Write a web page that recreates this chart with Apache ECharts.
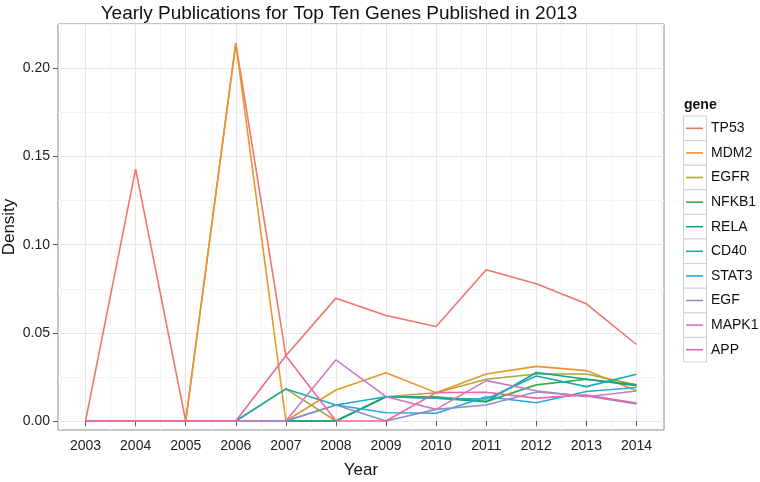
<!DOCTYPE html>
<html><head><meta charset="utf-8">
<script src="https://cdn.jsdelivr.net/npm/echarts@6/dist/echarts.min.js"></script>
<style>html,body{margin:0;padding:0;background:#fff}#c{width:760px;height:482px}</style>
</head><body><div id="c"></div>
<script>
// ---- data ----
const years = [2003,2004,2005,2006,2007,2008,2009,2010,2011,2012,2013,2014];
const genes = ['TP53','MDM2','EGFR','NFKB1','RELA','CD40','STAT3','EGF','MAPK1','APP'];
const TP53  = [0, 0.1429, 0, 0.2143, 0.0370, 0.0697, 0.0598, 0.0536, 0.0858, 0.0778, 0.0665, 0.0434];
const MDM2  = [0, 0, 0, 0.2143, 0, 0.0176, 0.0274, 0.0161, 0.0267, 0.0310, 0.0286, 0.0172];
const EGFR  = [0, 0, 0, 0, 0.0182, 0, 0.0138, 0.0160, 0.0237, 0.0267, 0.0267, 0.0205];
const NFKB1 = [0, 0, 0, 0, 0, 0, 0.0138, 0.0138, 0.0110, 0.0205, 0.0237, 0.0205];
const RELA  = [0, 0, 0, 0, 0, 0, 0.0138, 0.0129, 0.0110, 0.0275, 0.0237, 0.0200];
const CD40  = [0, 0, 0, 0, 0.0182, 0.0091, 0.0138, 0.0129, 0.0125, 0.0255, 0.0195, 0.0265];
const STAT3 = [0, 0, 0, 0, 0, 0.0091, 0.0047, 0.0044, 0.0138, 0.0104, 0.0167, 0.0190];
const EGF   = [0, 0, 0, 0, 0, 0.0091, 0, 0.0066, 0.0091, 0.0165, 0.0142, 0.0097];
const MAPK1 = [0, 0, 0, 0, 0, 0.0347, 0.0138, 0.0066, 0.0229, 0.0172, 0.0138, 0.0170];
const APP   = [0, 0, 0, 0, 0.0370, 0, 0, 0.0161, 0.0163, 0.0130, 0.0148, 0.0102];
const seriesValues = [TP53, MDM2, EGFR, NFKB1, RELA, CD40, STAT3, EGF, MAPK1, APP];
const yTickLabels = [0, 0.05, 0.10, 0.15, 0.20];
const xTickLabels = years;

// ---- style ----
const colors = ['#F0766C','#E8962C','#ABA739','#3AA948','#12A383','#1AABB3','#27A9DD','#8E8FC6','#CB7BBE','#EC67A3'];
const xMin = 2002.45, xMax = 2014.55, yMin = -0.0051, yMax = 0.2252;
const xGrid = [];
years.forEach(y => { xGrid.push(y - 0.5, y); });
xGrid.push(years[years.length - 1] + 0.5);
const yGrid = [];
for (let k = 0; k <= 9; k++) yGrid.push(+(k * 0.025).toFixed(3));
const font = 'Liberation Sans, Arial, Helvetica, sans-serif';

const chart = echarts.init(document.getElementById('c'), null, {renderer: 'canvas'});

const legendTop = 116, legendStep = 24.6;
const keyBoxes = genes.map((g, i) => ({
  type: 'rect', z: 1,
  shape: {x: 683.5, y: legendTop + i * legendStep, width: 23, height: legendStep},
  style: {fill: '#fff', stroke: '#D0D0D0', lineWidth: 1}
}));

chart.setOption({
  animation: false,
  backgroundColor: '#fff',
  textStyle: {fontFamily: font},
  grid: {left: 58, right: 96, top: 24, bottom: 52, containLabel: false, outerBoundsMode: 'none',
         show: true, backgroundColor: '#fff', borderColor: '#8C8C8C', borderWidth: 1},
  graphic: [
    {type: 'text', x: 339, y: 13.5, style: {text: 'Yearly Publications for Top Ten Genes Published in 2013', font: '19px ' + font, fill: '#111', textAlign: 'center', textVerticalAlign: 'middle'}},
    {type: 'text', x: 684, y: legendTop - 11, style: {text: 'gene', font: 'bold 14px ' + font, fill: '#111', textAlign: 'left', textVerticalAlign: 'middle'}},
    ...keyBoxes
  ],
  legend: {
    orient: 'vertical', left: 686, top: legendTop, itemGap: 0, padding: 0,
    itemWidth: 17, itemHeight: 1.6, icon: 'rect',
    textStyle: {fontSize: 14, color: '#111', lineHeight: legendStep, padding: [0, 0, 0, 3]},
    data: genes
  },
  xAxis: [
    {type: 'value', min: xMin, max: xMax, position: 'bottom',
     axisLine: {show: false}, axisTick: {show: false, customValues: xGrid},
     axisLabel: {show: false}, splitLine: {show: true, lineStyle: {color: ['#F4F4F4', '#E6E6E6'], width: 1}}},
    {type: 'value', min: xMin, max: xMax, position: 'bottom',
     name: 'Year', nameLocation: 'middle', nameGap: 32, nameMoveOverlap: false,
     nameTextStyle: {fontSize: 17, color: '#111'},
     axisLine: {show: false}, axisTick: {show: true, length: 5, customValues: xTickLabels, lineStyle: {color: '#555'}},
     axisLabel: {customValues: xTickLabels, formatter: v => String(v), fontSize: 14, color: '#222', margin: 9},
     splitLine: {show: false}}
  ],
  yAxis: [
    {type: 'value', min: yMin, max: yMax, position: 'left',
     axisLine: {show: false}, axisTick: {show: false, customValues: yGrid},
     axisLabel: {show: false}, splitLine: {show: true, lineStyle: {color: ['#E6E6E6', '#F4F4F4'], width: 1}}},
    {type: 'value', min: yMin, max: yMax, position: 'left',
     name: 'Density', nameLocation: 'middle', nameGap: 40, nameMoveOverlap: false,
     nameTextStyle: {fontSize: 17, color: '#111'},
     axisLine: {show: false}, axisTick: {show: true, length: 5, customValues: yTickLabels, lineStyle: {color: '#555'}},
     axisLabel: {customValues: yTickLabels, formatter: v => v.toFixed(2), fontSize: 14, color: '#222', margin: 8},
     splitLine: {show: false}}
  ],
  series: genes.map((g, i) => ({
    name: g, type: 'line', xAxisIndex: 0, yAxisIndex: 0,
    data: years.map((y, j) => [y, seriesValues[i][j]]),
    showSymbol: false, symbol: 'none',
    itemStyle: {color: colors[i]},
    lineStyle: {color: colors[i], width: 1.6}
  }))
});
</script></body></html>
